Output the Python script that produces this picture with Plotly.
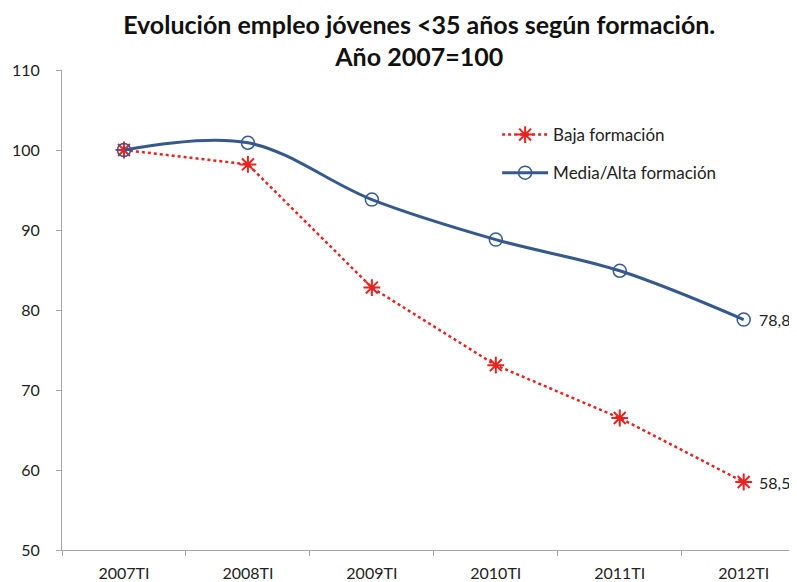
import plotly.graph_objects as go

categories = ["2007TI", "2008TI", "2009TI", "2010TI", "2011TI", "2012TI"]
baja = [100.0, 98.2, 82.8, 73.1, 66.5, 58.5]
media_alta = [100.0, 100.9, 93.8, 88.8, 84.9, 78.8]
series_names = ["Baja formación", "Media/Alta formación"]
y_ticks = [50, 60, 70, 80, 90, 100, 110]

FONT = "Lato"
RED = "#E8231F"
BLUE = "#35598F"

fig = go.Figure()
fig.add_trace(go.Scatter(
    x=categories, y=baja, name=series_names[0], mode="lines+markers",
    line=dict(color=RED, width=2.5, dash="dot"),
    marker=dict(symbol="asterisk-open", size=14, line=dict(color=RED, width=2)),
    legendgroup="a",
))
fig.add_trace(go.Scatter(
    x=categories, y=media_alta, name=series_names[1], mode="lines+markers",
    line=dict(color=BLUE, width=3, shape="spline"),
    marker=dict(symbol="circle-open", size=13, color=BLUE, line=dict(color=BLUE, width=1.5)),
    legendgroup="b",
))

for vals in (media_alta, baja):
    fig.add_annotation(
        x=categories[-1], y=vals[-1], xref="x", yref="y",
        text=f"{vals[-1]:.1f}".replace(".", ","), showarrow=False,
        xanchor="left", xshift=13, font=dict(family=FONT, size=16, color="#222"),
    )

fig.update_layout(
    width=789, height=574,
    margin=dict(l=54, r=0, t=62, b=32),
    paper_bgcolor="white", plot_bgcolor="white",
    font=dict(family=FONT, size=16, color="#222"),
    title=dict(
        text="<b>Evolución empleo jóvenes <35 años según formación.<br>Año 2007=100</b>",
        x=0.486, xref="paper", xanchor="center", y=0.955, yanchor="top",
        font=dict(family=FONT, size=25, color="#111"),
    ),
    showlegend=True,
    legend=dict(
        x=0.592, y=0.902, xanchor="left", yanchor="top",
        bgcolor="rgba(255,255,255,0)", tracegroupgap=13, itemwidth=46,
        font=dict(family=FONT, size=17, color="#222"),
    ),
)
fig.update_xaxes(
    type="category", range=[-0.5, 5.43],
    showline=True, linecolor="#A6A6A6", linewidth=1,
    ticks="outside", tickson="boundaries", ticklen=5, tickcolor="#A6A6A6",
    showgrid=False, ticklabelstandoff=9,
)
fig.update_yaxes(
    range=[50, 110], tickvals=y_ticks,
    showline=True, linecolor="#A6A6A6", linewidth=1,
    ticks="outside", ticklen=5, tickcolor="#A6A6A6",
    showgrid=False, zeroline=False, ticklabelstandoff=13,
)

fig.write_html("out.html")
